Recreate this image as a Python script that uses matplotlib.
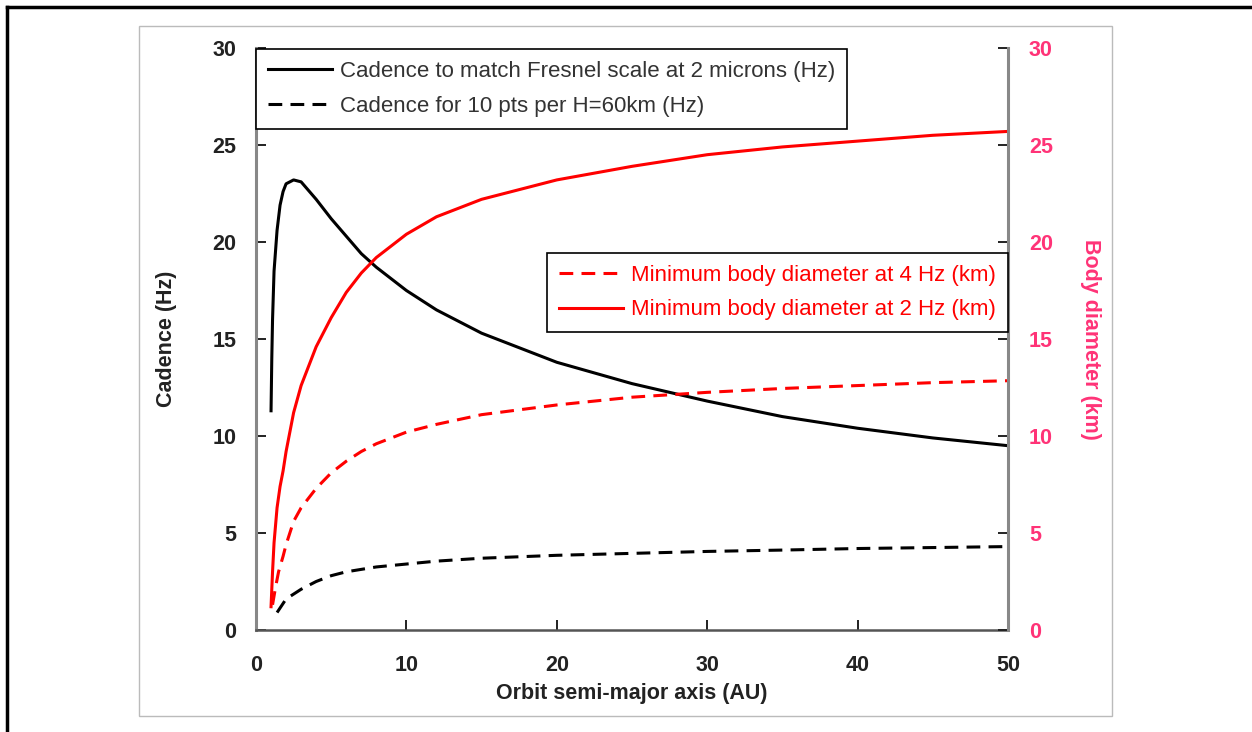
import matplotlib
matplotlib.use("Agg")
import matplotlib.pyplot as plt
from matplotlib.lines import Line2D
from matplotlib.patches import Rectangle

plt.rcParams['font.family'] = ['Liberation Sans', 'DejaVu Sans']

# orbit semi-major axis (AU) and cadence curves (Hz)
a_fresnel = [1.0, 1.05, 1.1, 1.2, 1.4, 1.6, 1.8, 2.0, 2.5, 3.0, 4.0, 5.0, 6.0, 7.0, 8.0,
             10.0, 12.0, 15.0, 20.0, 25.0, 30.0, 35.0, 40.0, 45.0, 50.0]
cad_fresnel = [11.3, 14.0, 16.0, 18.5, 20.6, 21.9, 22.6, 23.0, 23.2, 23.1, 22.2, 21.2, 20.3,
               19.4, 18.7, 17.5, 16.5, 15.3, 13.8, 12.7, 11.8, 11.0, 10.4, 9.9, 9.5]

a_10pts = [1.4, 2.0, 3.0, 4.0, 5.0, 6.0, 8.0, 10.0, 12.0, 15.0, 20.0, 25.0, 30.0, 35.0,
           40.0, 45.0, 50.0]
cad_10pts = [0.9, 1.6, 2.1, 2.5, 2.8, 3.0, 3.25, 3.4, 3.55, 3.7, 3.85, 3.95, 4.05, 4.12,
             4.2, 4.25, 4.3]

# minimum body diameter (km)
a_2hz = [1.0, 1.1, 1.2, 1.4, 1.6, 1.8, 2.0, 2.5, 3.0, 4.0, 5.0, 6.0, 7.0, 8.0, 10.0,
         12.0, 15.0, 20.0, 25.0, 30.0, 35.0, 40.0, 45.0, 50.0]
diam_2hz = [1.2, 3.0, 4.5, 6.3, 7.4, 8.2, 9.2, 11.2, 12.6, 14.6, 16.1, 17.4, 18.4, 19.2,
            20.4, 21.3, 22.2, 23.2, 23.9, 24.5, 24.9, 25.2, 25.5, 25.7]

a_4hz = [1.1, 1.3, 1.5, 1.8, 2.0, 2.5, 3.0, 4.0, 5.0, 6.0, 7.0, 8.0, 10.0, 12.0, 15.0,
         20.0, 25.0, 30.0, 35.0, 40.0, 45.0, 50.0]
diam_4hz = [1.3, 2.2, 3.0, 3.8, 4.4, 5.6, 6.3, 7.3, 8.1, 8.7, 9.2, 9.6, 10.2, 10.6, 11.1,
            11.6, 12.0, 12.25, 12.45, 12.6, 12.75, 12.85]

x_ticks = [0, 10, 20, 30, 40, 50]
y_ticks = [0, 5, 10, 15, 20, 25, 30]

pink = '#ff3377'
txt = '#222222'
fs = 15.5
lw = 2.2

fig = plt.figure(figsize=(12.52, 7.32), dpi=100)
ax = fig.add_axes([256 / 1252, 1 - 630 / 732, 752 / 1252, 582 / 732])
ax2 = ax.twinx()

# frames around the figure
fig.add_artist(Rectangle((139 / 1252, 1 - 716 / 732), 973 / 1252, 690 / 732,
                         transform=fig.transFigure, fill=False, edgecolor='#bbbbbb', lw=1))
fig.add_artist(Line2D([7 / 1252, 1], [1 - 7 / 732] * 2, transform=fig.transFigure,
                      color='black', lw=2.5))
fig.add_artist(Line2D([7 / 1252] * 2, [0, 1 - 7 / 732], transform=fig.transFigure,
                      color='black', lw=2.5))

l1, = ax.plot(a_fresnel, cad_fresnel, color='black', lw=lw,
              label='Cadence to match Fresnel scale at 2 microns (Hz)')
l2, = ax.plot(a_10pts, cad_10pts, color='black', lw=lw, dashes=(4.5, 2.7),
              label='Cadence for 10 pts per H=60km (Hz)')
r4, = ax2.plot(a_4hz, diam_4hz, color='red', lw=lw, dashes=(4.5, 2.7),
               label='Minimum body diameter at 4 Hz (km)')
r2, = ax2.plot(a_2hz, diam_2hz, color='red', lw=lw,
               label='Minimum body diameter at 2 Hz (km)')

for a in (ax, ax2):
    a.set_xlim(0, 50)
    a.set_ylim(0, 30)
    a.set_yticks(y_ticks)
    a.spines['top'].set_visible(False)
    a.patch.set_visible(False)

ax.set_xticks(x_ticks)
ax.spines['right'].set_visible(False)
ax.spines['left'].set_color('#888888')
ax.spines['left'].set_linewidth(2.2)
ax.spines['bottom'].set_color('#555555')
ax.spines['bottom'].set_linewidth(1.8)
ax2.spines['left'].set_visible(False)
ax2.spines['bottom'].set_visible(False)
ax2.spines['right'].set_color('#888888')
ax2.spines['right'].set_linewidth(2.2)

ax.tick_params(axis='both', direction='in', length=7, width=1.4, color='#222222',
               labelsize=fs, labelcolor=txt, pad=14)
ax.tick_params(axis='x', pad=18)
ax2.tick_params(axis='y', direction='in', length=7, width=1.4, color='#222222',
                labelsize=fs, labelcolor=pink, pad=15)
for lab in ax.get_xticklabels() + ax.get_yticklabels() + ax2.get_yticklabels():
    lab.set_fontweight('bold')

ax.set_xlabel('Orbit semi-major axis (AU)', fontsize=fs, fontweight='bold', color=txt)
ax.set_ylabel('Cadence (Hz)', fontsize=fs, fontweight='bold', color=txt)
ax2.set_ylabel('Body diameter (km)', fontsize=fs, fontweight='bold', color=pink,
               rotation=270)
ax.xaxis.set_label_coords(0.5, (630 - 683) / 582)
ax.yaxis.set_label_coords((177 - 256) / 752, 0.5)
ax2.yaxis.set_label_coords((1101 - 256) / 752, 0.5)

leg_kw = dict(fontsize=16, frameon=True, fancybox=False, framealpha=1, borderaxespad=0,
              handlelength=2.88, handletextpad=0.36, borderpad=0.54, labelspacing=0.62)
leg1 = ax2.legend(handles=[l1, l2], loc='upper left', bbox_to_anchor=(0, 1 - 1 / 582),
                  **leg_kw)
leg1.get_frame().set_edgecolor('black')
leg1.get_frame().set_linewidth(1.2)
for t in leg1.get_texts():
    t.set_color('#333333')
ax2.add_artist(leg1)
leg2 = ax2.legend(handles=[r4, r2], loc='center right',
                  bbox_to_anchor=(1.0, (630 - 292.5) / 582), **leg_kw)
leg2.get_frame().set_edgecolor('black')
leg2.get_frame().set_linewidth(1.2)
for t in leg2.get_texts():
    t.set_color('red')

fig.savefig('out.png', dpi=100)
